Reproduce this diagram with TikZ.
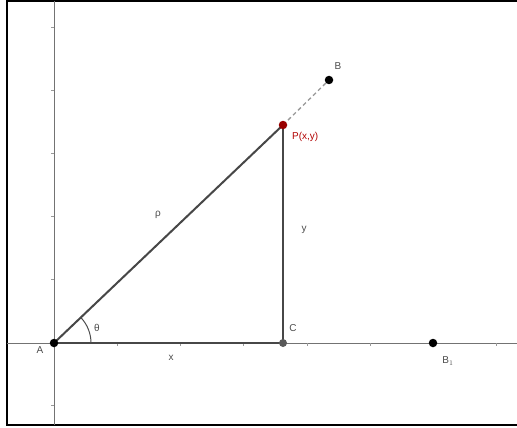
\documentclass[tikz,border=0pt]{standalone}
\usepackage{fontspec}
\setmainfont{Liberation Sans}
\begin{document}
\begin{tikzpicture}[x=1pt,y=-1pt,
  side/.style={draw=black!72, line width=2pt},
  axisline/.style={draw=black!55, line width=1pt},
  tick/.style={draw=black!40, line width=0.8pt},
  pt/.style={circle, fill=black, inner sep=0pt, minimum size=8.5pt},
  lab/.style={font=\fontsize{10}{11}\selectfont, text=black!70, inner sep=0pt},
  frameline/.style={draw=black, line width=2pt}]
\useasboundingbox (0,0) rectangle (517,428);
\fill[white] (0,0) rectangle (517,428);
% frame (open on the right)
\draw[frameline] (517,1) -- (7,1) -- (7,425) -- (517,425);
% axes
\coordinate (yt) at (54,1);
\coordinate (yb) at (54,425);
\coordinate (xl) at (7,343);
\coordinate (xr) at (517,343);
\draw[axisline] (yt) -- (yb);
\draw[axisline] (xl) -- (xr);
% ticks
\foreach \yy in {27,90,153,216,279,405}
  \draw[tick] (51,\yy) -- (54,\yy);
\foreach \xx in {117,180,243,307,370,496}
  \draw[tick] (\xx,343) -- (\xx,346);
% points
\coordinate (A) at (54,343);
\coordinate (C) at (283,343);
\coordinate (P) at (283,125);
\coordinate (Bp) at (329,80);
\coordinate (B1p) at (433,343);
% dashed extension
\draw[draw=black!40, line width=1.3pt, dash pattern=on 4pt off 3pt] (P) -- (Bp);
% triangle
\draw[side] (A) -- (P);
\draw[side] (P) -- (C);
\draw[side] (A) -- (C);
% angle arc
\draw[draw=black!70, line width=1pt] (A) ++(37,0) arc[start angle=0, end angle=-43.7, radius=37];
% points
\node[pt] (nA) at (A) {};
\node[pt, fill=black!65, minimum size=8pt] (nC) at (C) {};
\node[pt, fill=red!60!black] (nP) at (P) {};
\node[pt] (nB) at (Bp) {};
\node[pt] (nB1) at (B1p) {};
% labels
\node[lab] (lB) at (338,66) {B};
\node[lab, text=red!70!black, anchor=west] (lP) at (292,137) {P(x,y)};
\node[lab] (lrho) at (158,215) {ρ};
\node[lab] (ly) at (304,230) {y};
\node[lab] (lth) at (97,328) {θ};
\node[lab] (lC) at (293,328) {C};
\node[lab] (lA) at (40,350) {A};
\node[lab] (lx) at (171,358) {x};
\node[lab] (lB1) at (448,361) {B$_1$};
\end{tikzpicture}
\end{document}
